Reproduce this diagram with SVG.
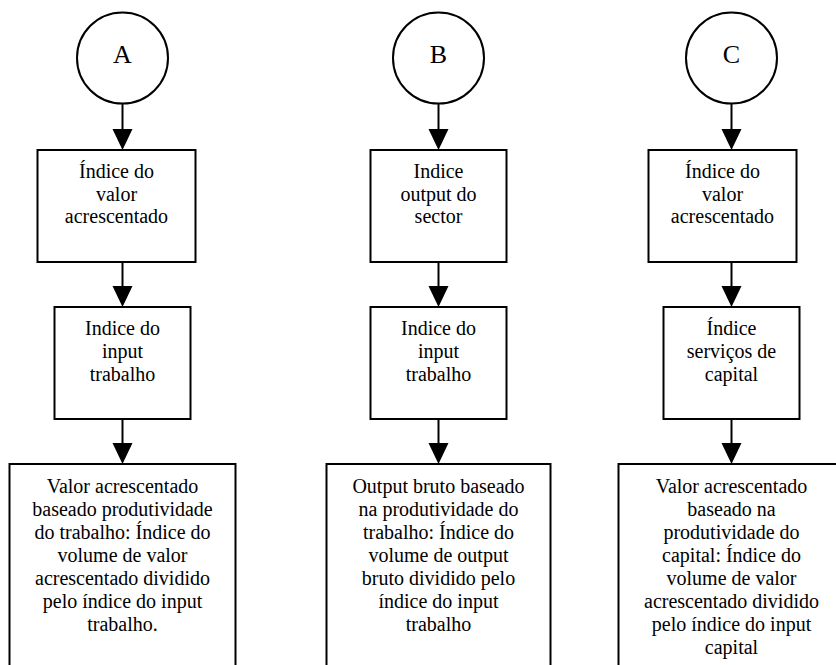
<svg xmlns="http://www.w3.org/2000/svg" width="836" height="665" viewBox="0 0 836 665">
<style>
  .shape { fill: #ffffff; stroke: #000000; stroke-width: 2; }
  text { font-family: 'Liberation Serif', 'Times New Roman', Times, serif; font-size: 20px; fill: #000000; text-anchor: middle; }
  .big { font-size: 26px; }
  .conn { stroke: #000000; stroke-width: 2; fill: none; }
  .head { fill: #000000; stroke: none; }
</style>
<rect width="836" height="665" fill="#ffffff"/>
<g id="connectors">
  <line class="conn" x1="122.5" y1="103.5" x2="122.5" y2="130"/>
  <polygon class="head" points="112.5,129 132.5,129 122.5,150"/>
  <line class="conn" x1="122.5" y1="262" x2="122.5" y2="287"/>
  <polygon class="head" points="112.5,286 132.5,286 122.5,307"/>
  <line class="conn" x1="122.5" y1="419" x2="122.5" y2="444"/>
  <polygon class="head" points="112.5,443 132.5,443 122.5,464"/>

  <line class="conn" x1="438.5" y1="103.5" x2="438.5" y2="130"/>
  <polygon class="head" points="428.5,129 448.5,129 438.5,150"/>
  <line class="conn" x1="438.5" y1="262" x2="438.5" y2="287"/>
  <polygon class="head" points="428.5,286 448.5,286 438.5,307"/>
  <line class="conn" x1="438.5" y1="419" x2="438.5" y2="444"/>
  <polygon class="head" points="428.5,443 448.5,443 438.5,464"/>

  <line class="conn" x1="731.5" y1="103.5" x2="731.5" y2="130"/>
  <polygon class="head" points="721.5,129 741.5,129 731.5,150"/>
  <line class="conn" x1="731.5" y1="262" x2="731.5" y2="287"/>
  <polygon class="head" points="721.5,286 741.5,286 731.5,307"/>
  <line class="conn" x1="731.5" y1="419" x2="731.5" y2="444"/>
  <polygon class="head" points="721.5,443 741.5,443 731.5,464"/>
</g>

<g id="nodeA">
  <circle class="shape" cx="122.5" cy="58" r="45.5"/>
  <text class="big" x="122.5" y="63">A</text>
</g>
<g id="nodeA1">
  <rect class="shape" x="37.5" y="150" width="158" height="112"/>
  <text x="116.5" y="178">Índice do</text>
  <text x="116.5" y="200.5">valor</text>
  <text x="116.5" y="223">acrescentado</text>
</g>
<g id="nodeA2">
  <rect class="shape" x="54.5" y="307" width="136" height="112"/>
  <text x="122.5" y="335">Indice do</text>
  <text x="122.5" y="358">input</text>
  <text x="122.5" y="381">trabalho</text>
</g>
<g id="nodeA3">
  <rect class="shape" x="9.5" y="464" width="226" height="210"/>
  <text x="122.5" y="493">Valor acrescentado</text>
  <text x="122.5" y="516">baseado produtividade</text>
  <text x="122.5" y="539">do trabalho: Índice do</text>
  <text x="122.5" y="562">volume de valor</text>
  <text x="122.5" y="585">acrescentado dividido</text>
  <text x="122.5" y="608">pelo índice do input</text>
  <text x="122.5" y="631">trabalho.</text>
</g>

<g id="nodeB">
  <circle class="shape" cx="438.5" cy="58" r="45.5"/>
  <text class="big" x="438.5" y="63">B</text>
</g>
<g id="nodeB1">
  <rect class="shape" x="370.5" y="150" width="136" height="112"/>
  <text x="438.5" y="178">Indice</text>
  <text x="438.5" y="200.5">output do</text>
  <text x="438.5" y="223">sector</text>
</g>
<g id="nodeB2">
  <rect class="shape" x="370.5" y="307" width="136" height="112"/>
  <text x="438.5" y="335">Indice do</text>
  <text x="438.5" y="358">input</text>
  <text x="438.5" y="381">trabalho</text>
</g>
<g id="nodeB3">
  <rect class="shape" x="326.5" y="464" width="224" height="210"/>
  <text x="438.5" y="493">Output bruto baseado</text>
  <text x="438.5" y="516">na produtividade do</text>
  <text x="438.5" y="539">trabalho: Índice do</text>
  <text x="438.5" y="562">volume de output</text>
  <text x="438.5" y="585">bruto dividido pelo</text>
  <text x="438.5" y="608">índice do input</text>
  <text x="438.5" y="631">trabalho</text>
</g>

<g id="nodeC">
  <circle class="shape" cx="731.5" cy="58" r="45.5"/>
  <text class="big" x="731.5" y="63">C</text>
</g>
<g id="nodeC1">
  <rect class="shape" x="648.5" y="150" width="148" height="112"/>
  <text x="722.5" y="178">Índice do</text>
  <text x="722.5" y="200.5">valor</text>
  <text x="722.5" y="223">acrescentado</text>
</g>
<g id="nodeC2">
  <rect class="shape" x="663.5" y="307" width="136" height="112"/>
  <text x="731.5" y="335">Índice</text>
  <text x="731.5" y="358">serviços de</text>
  <text x="731.5" y="381">capital</text>
</g>
<g id="nodeC3">
  <rect class="shape" x="618.5" y="464" width="227" height="210"/>
  <text x="731.5" y="493">Valor acrescentado</text>
  <text x="731.5" y="516">baseado na</text>
  <text x="731.5" y="539">produtividade do</text>
  <text x="731.5" y="562">capital: Índice do</text>
  <text x="731.5" y="585">volume de valor</text>
  <text x="731.5" y="608">acrescentado dividido</text>
  <text x="731.5" y="631">pelo índice do input</text>
  <text x="731.5" y="654">capital</text>
</g>
</svg>
